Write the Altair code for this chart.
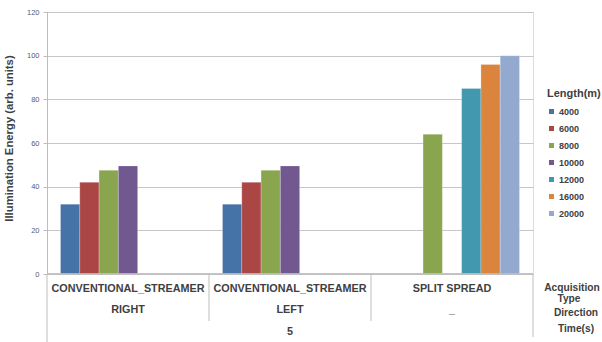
import altair as alt
import pandas as pd

# Category levels of the bottom axis
acq_types = ["CONVENTIONAL_STREAMER", "CONVENTIONAL_STREAMER", "SPLIT SPREAD"]
directions = ["RIGHT", "LEFT", "_"]
time_label = "5"

# Streamer lengths (m) and series colours
lengths = ["4000", "6000", "8000", "10000", "12000", "16000", "20000"]
colors = ["#4572A7", "#AA4643", "#89A54E", "#71588F", "#4198AF", "#DB843D", "#93A9CF"]

# Illumination energy per group, one entry per length (None = not acquired)
energy_right = [32, 42, 47.5, 49.5, None, None, None]
energy_left = [32, 42, 47.5, 49.5, None, None, None]
energy_split = [None, None, 64, None, 85, 96, 100]

group_keys = [f"{a}|{d}" for a, d in zip(acq_types, directions)]
energy = [energy_right, energy_left, energy_split]

rows = []
for key, vals in zip(group_keys, energy):
    for length, v in zip(lengths, vals):
        if v is not None:
            rows.append({"group": key, "length": length, "energy": v})
bars_df = pd.DataFrame(rows)

groups_df = pd.DataFrame({"group": group_keys, "acq": acq_types, "dir": directions})

FONT = "Liberation Sans"
W, H = 486, 262

x_scale = alt.Scale(domain=group_keys, paddingInner=0, paddingOuter=0)
x_enc = alt.X("group:N", scale=x_scale, axis=None)

bars = alt.Chart(bars_df).mark_bar(stroke="white", strokeWidth=0.4, strokeOpacity=0.6).encode(
    x=x_enc,
    xOffset=alt.XOffset("length:N", scale=alt.Scale(domain=lengths, paddingInner=0, paddingOuter=0.7)),
    y=alt.Y(
        "energy:Q",
        scale=alt.Scale(domain=[0, 120], nice=False),
        axis=alt.Axis(
            title="Illumination Energy (arb. units)",
            values=[0, 20, 40, 60, 80, 100, 120],
            grid=True,
            gridColor="#c6c6c6",
            domainColor="#bdbdbd",
            tickColor="#bdbdbd",
            tickSize=4,
            labelPadding=4,
            labelFont=FONT,
            labelFontSize=7.5,
            labelColor="#5a5870",
            titleFont=FONT,
            titleFontSize=11.3,
            titleFontWeight="bold",
            titleColor="#404040",
            titleX=-33,
            titleY=126,
        ),
    ),
    color=alt.Color(
        "length:N",
        scale=alt.Scale(domain=lengths, range=colors),
        legend=alt.Legend(
            title="Length(m)",
            orient="none",
            legendX=500,
            legendY=76,
            symbolType="square",
            symbolSize=25,
            symbolStrokeWidth=0,
            labelFont=FONT,
            labelFontSize=9,
            labelFontWeight="bold",
            labelColor="#404040",
            labelOffset=3,
            rowPadding=7,
            titleFont=FONT,
            titleFontSize=11,
            titleFontWeight="bold",
            titleColor="#404040",
            titlePadding=8,
        ),
    ),
)

# Box lines of the multi-level category axis
outer_left = alt.Chart(groups_df.iloc[[0]]).mark_rule(color="#bdbdbd").encode(
    x=alt.X("group:N", scale=x_scale, axis=None, bandPosition=0),
    y=alt.value(H), y2=alt.value(H + 68),
)
inner_lines = alt.Chart(groups_df.iloc[1:]).mark_rule(color="#bdbdbd").encode(
    x=alt.X("group:N", scale=x_scale, axis=None, bandPosition=0),
    y=alt.value(H), y2=alt.value(H + 47),
)
outer_right = alt.Chart(groups_df.iloc[[2]]).mark_rule(color="#bdbdbd").encode(
    x=alt.X("group:N", scale=x_scale, axis=None, bandPosition=1),
    y=alt.value(H), y2=alt.value(H + 63),
)
baseline = alt.Chart(groups_df).mark_rule(color="#bdbdbd").encode(
    x=alt.value(0), x2=alt.value(W), y=alt.value(H),
)

label_style = dict(font=FONT, fontSize=10.8, fontWeight="bold", color="#404040", baseline="middle")

acq_text = alt.Chart(groups_df).mark_text(**label_style).encode(
    x=x_enc, y=alt.value(H + 15), text="acq:N"
)
dir_text = alt.Chart(groups_df).mark_text(**label_style).encode(
    x=x_enc, y=alt.value(H + 36), text="dir:N"
)
time_text = alt.Chart(pd.DataFrame({"t": [time_label]})).mark_text(**label_style).encode(
    x=alt.value(W / 2), y=alt.value(H + 58), text="t:N"
)

# Level names to the right of the category axis
level_df = pd.DataFrame({
    "name": ["Acquisition", "Type", "Direction", "Time(s)"],
    "px": [525, 522, 529, 529],
    "py": [H + 14, H + 25, H + 39, H + 55],
})
level_style = dict(label_style, fontSize=10.2, align="center")
level_text = alt.Chart(level_df).mark_text(**level_style).encode(
    x=alt.X("px:Q", scale=None), y=alt.Y("py:Q", scale=None), text="name:N"
)

chart = alt.layer(
    bars, baseline, outer_left, inner_lines, outer_right,
    acq_text, dir_text, time_text, level_text,
).properties(
    width=W, height=H,
    autosize=alt.AutoSizeParams(type="none"),
    padding={"left": 47, "top": 12, "right": 69, "bottom": 68},
).configure_view(stroke=None).configure(background="white")

chart.save("out.html", embed_options={"renderer": "svg", "actions": False})
